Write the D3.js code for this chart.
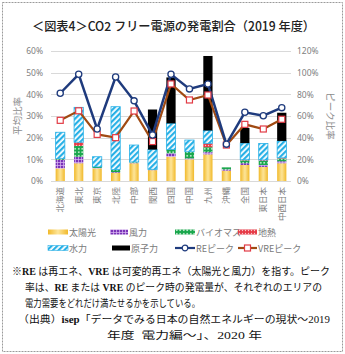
<!DOCTYPE html>
<html>
<head>
<meta charset="utf-8">
<script src="https://cdn.jsdelivr.net/npm/d3@7"></script>
<style>
  html, body { margin: 0; padding: 0; background: #fff; }
  svg { display: block; font-family: "Noto Sans CJK JP", "Noto Sans", sans-serif; }
</style>
</head>
<body>
<div id="chart"></div>
<script>
// regions (bottom axis)
const regions = ["北海道", "東北", "東京", "北陸", "中部", "関西", "四国", "中国", "九州", "沖縄", "全国", "東日本", "中西日本"];

// generation share by source, % (left axis)
const solar      = [5.8, 8.2, 5.8, 3.8, 8.2, 5.0, 11.2, 10.0, 12.3, 4.8, 7.4, 6.5, 8.2];
const wind       = [3.9, 3.0, 0.2, 0.3, 0.3, 0.2, 1.6, 0.4, 1.0, 0.5, 0.8, 0.9, 0.9];
const biomass    = [0.4, 5.0, 0.5, 1.2, 0.3, 0.2, 1.8, 3.1, 2.3, 1.0, 1.3, 1.9, 1.3];
const geothermal = [0.2, 1.7, 0.0, 0.0, 0.0, 0.0, 0.0, 0.0, 1.8, 0.0, 0.3, 0.4, 0.3];
const hydro      = [12.2, 16.1, 4.7, 29.0, 7.8, 9.1, 12.0, 5.4, 5.9, 0.0, 7.7, 7.6, 7.8];
const nuclear    = [0, 0, 0, 0, 0, 18.5, 21.2, 0, 34.4, 0, 7.0, 0, 13.0];

// peak ratios, % (right axis)
const rePeak  = [81, 98.5, 48, 96, 74, 42.5, 98.5, 85, 89.5, 34, 63.4, 60.3, 67.7];
const vrePeak = [56, 64.8, 43, 40, 64.6, 36.4, 89.6, 74.8, 79.4, 33.2, 52.3, 48, 57];

const leftTicks  = [0, 10, 20, 30, 40, 50, 60];
const rightTicks = [0, 20, 40, 60, 80, 100, 120];

const sources = [
    { key: "solar", name: "太陽光", values: solar, fill: "url(#p-solar)" },
    { key: "wind", name: "風力", values: wind, fill: "url(#p-wind)" },
    { key: "biomass", name: "バイオマス", values: biomass, fill: "url(#p-biomass)" },
    { key: "geo", name: "地熱", values: geothermal, fill: "url(#p-geo)" },
    { key: "hydro", name: "水力", values: hydro, fill: "url(#p-hydro)" },
    { key: "nuclear", name: "原子力", values: nuclear, fill: "#000" }
];

const W = 345, H = 354;
const plot = { left: 51, right: 291, top: 51, bottom: 181 };
const axisGrey = "#808080";
const reColor = "#1f3b7d", vreColor = "#a04a12", vreMarker = "#e23b45";

const svg = d3.select("#chart").append("svg")
    .attr("width", W).attr("height", H);

// fill patterns
const defs = svg.append("defs");

const gSolar = defs.append("linearGradient").attr("id", "g-solar")
    .attr("x1", "0").attr("x2", "1").attr("y1", "0").attr("y2", "0");
gSolar.append("stop").attr("offset", "0%").attr("stop-color", "#f1b92a");
gSolar.append("stop").attr("offset", "50%").attr("stop-color", "#fde59a");
gSolar.append("stop").attr("offset", "100%").attr("stop-color", "#f1b92a");
const pSolar = defs.append("pattern").attr("id", "p-solar")
    .attr("patternUnits", "objectBoundingBox").attr("width", 1).attr("height", 1)
    .attr("patternContentUnits", "objectBoundingBox");
pSolar.append("rect").attr("width", 1).attr("height", 1).attr("fill", "url(#g-solar)");

const pWind = defs.append("pattern").attr("id", "p-wind")
    .attr("patternUnits", "userSpaceOnUse").attr("width", 3).attr("height", 3);
pWind.append("rect").attr("width", 3).attr("height", 3).attr("fill", "#7a33b8");
pWind.append("path").attr("d", "M0,0.4H3M0.4,0V3").attr("stroke", "#d9b8f2").attr("stroke-width", 0.8);

const pBio = defs.append("pattern").attr("id", "p-biomass")
    .attr("patternUnits", "userSpaceOnUse").attr("width", 3.5).attr("height", 3.5);
pBio.append("rect").attr("width", 3.5).attr("height", 3.5).attr("fill", "#17a64a");
pBio.append("circle").attr("cx", 1.75).attr("cy", 1.75).attr("r", 0.9).attr("fill", "#e6f7ea");

const pGeo = defs.append("pattern").attr("id", "p-geo")
    .attr("patternUnits", "userSpaceOnUse").attr("width", 3).attr("height", 3);
pGeo.append("rect").attr("width", 3).attr("height", 3).attr("fill", "#e63a46");
pGeo.append("circle").attr("cx", 1.5).attr("cy", 1.5).attr("r", 0.7).attr("fill", "#f8c6ca");

const pHydro = defs.append("pattern").attr("id", "p-hydro")
    .attr("patternUnits", "userSpaceOnUse").attr("width", 4).attr("height", 4)
    .attr("patternTransform", "rotate(45)");
pHydro.append("rect").attr("width", 4).attr("height", 4).attr("fill", "#fff");
pHydro.append("rect").attr("width", 2.2).attr("height", 4).attr("fill", "#27b0e6");

// outer dashed frame
svg.append("rect")
    .attr("x", 2.5).attr("y", 2.5).attr("width", W - 5).attr("height", H - 5)
    .attr("fill", "none").attr("stroke", "#9a9a9a").attr("stroke-dasharray", "2,1");

// title
svg.append("text")
    .attr("x", 32).attr("y", 31)
    .attr("textLength", 283).attr("lengthAdjust", "spacingAndGlyphs")
    .attr("font-size", 12.5).attr("font-weight", 500).attr("fill", "#222")
    .text("＜図表4＞CO2 フリー電源の発電割合（2019 年度）");

// scales
const x = d3.scaleBand()
    .domain(regions)
    .range([plot.left, plot.right])
    .paddingInner(0.5).paddingOuter(0.25);
const y = d3.scaleLinear().domain([0, 60]).range([plot.bottom, plot.top]);
const y2 = d3.scaleLinear().domain([0, 120]).range([plot.bottom, plot.top]);

// gridlines
svg.append("g").selectAll("line")
    .data(leftTicks)
    .join("line")
    .attr("x1", plot.left).attr("x2", plot.right)
    .attr("y1", d => Math.round(y(d)) + 0.5).attr("y2", d => Math.round(y(d)) + 0.5)
    .attr("stroke", "#d9d9d9").attr("stroke-width", 1);

// left axis
const leftAxis = svg.append("g")
    .attr("transform", `translate(${plot.left - 8},0)`)
    .call(d3.axisLeft(y).tickValues(leftTicks).tickFormat(d => d + "%").tickSize(0).tickPadding(0));
leftAxis.select(".domain").remove();
leftAxis.selectAll("text").attr("fill", axisGrey).attr("font-size", 8.5)
    .attr("font-family", "Noto Sans, sans-serif");

// right axis
const rightAxis = svg.append("g")
    .attr("transform", `translate(${plot.right + 6},0)`)
    .call(d3.axisRight(y2).tickValues(rightTicks).tickFormat(d => d + "%").tickSize(0).tickPadding(0));
rightAxis.select(".domain").remove();
rightAxis.selectAll("text").attr("fill", axisGrey).attr("font-size", 8.5)
    .attr("font-family", "Noto Sans, sans-serif");

// axis titles
svg.append("text")
    .attr("transform", `translate(21,${(plot.top + plot.bottom) / 2}) rotate(-90)`)
    .attr("text-anchor", "middle").attr("font-size", 9.5).attr("fill", "#8c8c8c")
    .text("平均比率");
svg.append("text")
    .attr("transform", `translate(327,${(plot.top + plot.bottom) / 2}) rotate(90)`)
    .attr("text-anchor", "middle").attr("font-size", 9.5).attr("fill", "#8c8c8c")
    .text("ピーク比率");

// stacked bars
const table = regions.map((r, i) => {
    const row = { region: r };
    sources.forEach(s => { row[s.key] = s.values[i]; });
    return row;
});
const stacked = d3.stack().keys(sources.map(s => s.key))(table);

svg.append("g").selectAll("g")
    .data(stacked)
    .join("g")
    .attr("fill", (d, i) => sources[i].fill)
    .attr("stroke", (d, i) => sources[i].key === "hydro" ? "#27b0e6" : "none")
    .attr("stroke-width", 0.8)
    .selectAll("rect")
    .data(d => d.filter(v => v[1] - v[0] > 0))
    .join("rect")
    .attr("x", d => x(d.data.region))
    .attr("width", x.bandwidth())
    .attr("y", d => y(d[1]))
    .attr("height", d => y(d[0]) - y(d[1]));

// category labels, rotated
svg.append("g").selectAll("text")
    .data(regions)
    .join("text")
    .attr("transform", d => `translate(${x(d) + x.bandwidth() / 2 + 3},${plot.bottom + 6}) rotate(-90)`)
    .attr("text-anchor", "end")
    .attr("font-size", 8.5).attr("fill", axisGrey)
    .text(d => d);

// peak lines
const cx = d => x(d) + x.bandwidth() / 2;
const line = d3.line().x(d => cx(d.region)).y(d => y2(d.value));
const reData = regions.map((r, i) => ({ region: r, value: rePeak[i] }));
const vreData = regions.map((r, i) => ({ region: r, value: vrePeak[i] }));

svg.append("path").datum(vreData)
    .attr("d", line).attr("fill", "none")
    .attr("stroke", vreColor).attr("stroke-width", 2.2);
svg.append("path").datum(reData)
    .attr("d", line).attr("fill", "none")
    .attr("stroke", reColor).attr("stroke-width", 2.5);

svg.append("g").selectAll("rect")
    .data(vreData)
    .join("rect")
    .attr("x", d => cx(d.region) - 3).attr("y", d => y2(d.value) - 3)
    .attr("width", 6).attr("height", 6)
    .attr("fill", "#fff").attr("stroke", vreMarker).attr("stroke-width", 1.2);
svg.append("g").selectAll("circle")
    .data(reData)
    .join("circle")
    .attr("cx", d => cx(d.region)).attr("cy", d => y2(d.value))
    .attr("r", 3.1)
    .attr("fill", "#fff").attr("stroke", reColor).attr("stroke-width", 1.3);

// legend
const legendFont = 9;
const legendItems = [
    { type: "box", fill: sources[0].fill, label: sources[0].name, x: 48, y: 232, w: 20 },
    { type: "box", fill: sources[1].fill, label: sources[1].name, x: 110, y: 232, w: 18 },
    { type: "box", fill: sources[2].fill, label: sources[2].name, x: 175, y: 232, w: 20 },
    { type: "box", fill: sources[3].fill, label: sources[3].name, x: 238, y: 232, w: 19 },
    { type: "box", fill: sources[4].fill, label: sources[4].name, x: 48, y: 248, w: 20 },
    { type: "box", fill: sources[5].fill, label: sources[5].name, x: 112, y: 248, w: 18 },
    { type: "re", label: "REピーク", x: 175, y: 248, w: 20 },
    { type: "vre", label: "VREピーク", x: 238, y: 248, w: 19 }
];

const lg = svg.append("g").selectAll("g")
    .data(legendItems)
    .join("g")
    .attr("transform", d => `translate(${d.x},${d.y})`);

lg.filter(d => d.type === "box").append("rect")
    .attr("x", 0).attr("y", -2.5).attr("width", d => d.w).attr("height", 5)
    .attr("fill", d => d.fill)
    .attr("stroke", d => d.fill === "url(#p-hydro)" ? "#27b0e6" : "none").attr("stroke-width", 0.6);

lg.filter(d => d.type === "re").call(g => {
    g.append("line").attr("x1", 0).attr("x2", d => d.w).attr("stroke", reColor).attr("stroke-width", 2.2);
    g.append("circle").attr("cx", d => d.w / 2).attr("r", 2.8)
        .attr("fill", "#fff").attr("stroke", reColor).attr("stroke-width", 1.2);
});
lg.filter(d => d.type === "vre").call(g => {
    g.append("line").attr("x1", 0).attr("x2", d => d.w).attr("stroke", vreColor).attr("stroke-width", 2.2);
    g.append("rect").attr("x", d => d.w / 2 - 3).attr("y", -3).attr("width", 6).attr("height", 6)
        .attr("fill", "#fff").attr("stroke", vreMarker).attr("stroke-width", 1.2);
});

lg.append("text")
    .attr("x", d => d.w + 1).attr("y", 3.5)
    .attr("font-size", legendFont).attr("fill", "#7a7a7a")
    .text(d => d.label);

// footnote
const noteFont = "'Liberation Serif', 'Noto Sans CJK JP', serif";
const notes = [
    { x: 12, y: 275, len: 318, parts: [["※", 0], ["RE", 1], [" は再エネ、", 0], ["VRE", 1], [" は可変的再エネ（太陽光と風力）を指す。ピーク", 0]] },
    { x: 25, y: 291, len: 297, parts: [["率は、", 0], ["RE", 1], [" または ", 0], ["VRE", 1], [" のピーク時の発電量が、それぞれのエリアの", 0]] },
    { x: 25, y: 307, len: 175, parts: [["電力需要をどれだけ満たせるかを示している。", 0]] },
    { x: 18, y: 323, len: 312, parts: [["（出典）", 0], ["isep", 1], ["「データでみる日本の自然エネルギーの現状～2019", 0]] },
    { x: 107, y: 339, len: 155, parts: [["年度  電力編～」、2020 年", 0]] }
];

svg.append("g").selectAll("text")
    .data(notes)
    .join("text")
    .attr("x", d => d.x).attr("y", d => d.y)
    .attr("textLength", d => d.len).attr("lengthAdjust", "spacingAndGlyphs")
    .attr("font-size", 10).attr("fill", "#111")
    .style("font-family", noteFont)
    .style("white-space", "pre")
    .selectAll("tspan")
    .data(d => d.parts)
    .join("tspan")
    .attr("font-weight", d => d[1] ? "bold" : "normal")
    .text(d => d[0]);
</script>
</body>
</html>
